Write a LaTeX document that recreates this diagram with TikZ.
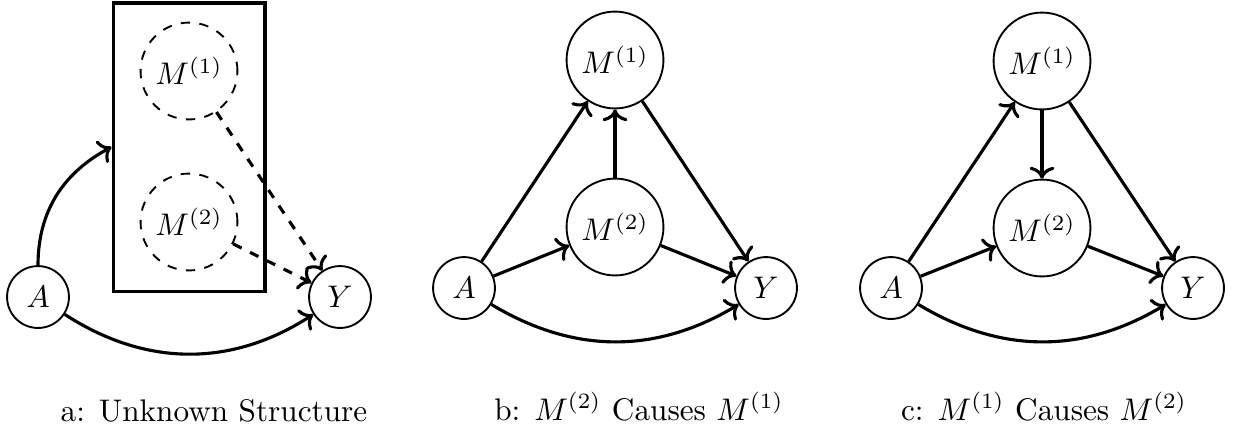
\documentclass[tikz,border=0pt]{standalone}
\usetikzlibrary{arrows.meta}
\begin{document}
\begin{tikzpicture}[x=0.32pt,y=-0.32pt,
  bignode/.style={circle,draw,line width=0.6pt,inner sep=0pt,minimum size=31pt},
  smallnode/.style={circle,draw,line width=0.6pt,inner sep=0pt,minimum size=19.8pt},
  dashnode/.style={bignode,dashed},
  arr/.style={->,line width=1pt},
  darr/.style={arr,dashed},
  captext/.style={anchor=base,font=\normalsize}]
\useasboundingbox (0,0) rectangle (1233,441);
% panel a
\node[draw,line width=1pt,minimum width=48.6pt,minimum height=92.2pt,inner sep=0pt] (box) at (189,147) {};
\node[dashnode] (aM1) at (189,71) {$M^{(1)}$};
\node[dashnode] (aM2) at (189,222) {$M^{(2)}$};
\node[smallnode] (aA) at (38,297) {$A$};
\node[smallnode] (aY) at (340,297) {$Y$};
\draw[arr] (aA.north) to[out=90,in=208] (box.west);
\draw[arr] (aA) to[bend right=33] (aY);
\draw[darr] (aM1) -- (aY);
\draw[darr] (aM2) -- (aY);
\node[captext] (capa) at (214,421) {a: Unknown Structure};
% panel b
\node[bignode] (bM1) at (615,60) {$M^{(1)}$};
\node[bignode] (bM2) at (615,227) {$M^{(2)}$};
\node[smallnode] (bA) at (464,288) {$A$};
\node[smallnode] (bY) at (766,288) {$Y$};
\draw[arr] (bA) -- (bM1);
\draw[arr] (bA) -- (bM2);
\draw[arr] (bM2) -- (bM1);
\draw[arr] (bM1) -- (bY);
\draw[arr] (bM2) -- (bY);
\draw[arr] (bA) to[bend right=31] (bY);
\node[captext] (capb) at (639,420) {b: $M^{(2)}$ Causes $M^{(1)}$};
% panel c
\node[bignode] (cM1) at (1042,61) {$M^{(1)}$};
\node[bignode] (cM2) at (1042,228) {$M^{(2)}$};
\node[smallnode] (cA) at (891,288) {$A$};
\node[smallnode] (cY) at (1193,288) {$Y$};
\draw[arr] (cA) -- (cM1);
\draw[arr] (cA) -- (cM2);
\draw[arr] (cM1) -- (cM2);
\draw[arr] (cM1) -- (cY);
\draw[arr] (cM2) -- (cY);
\draw[arr] (cA) to[bend right=31] (cY);
\node[captext] (capc) at (1044,420) {c: $M^{(1)}$ Causes $M^{(2)}$};
\end{tikzpicture}
\end{document}
